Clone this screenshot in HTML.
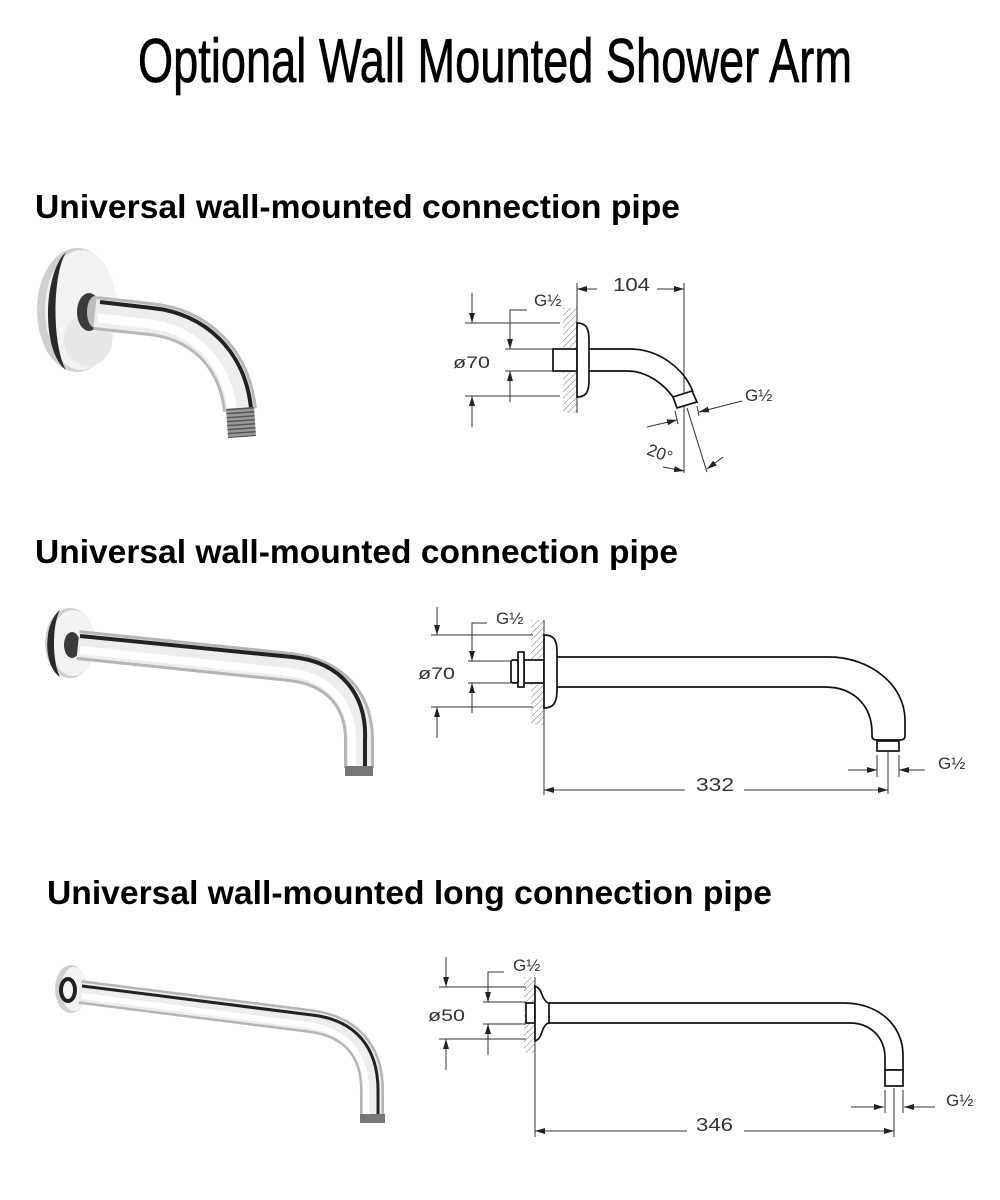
<!DOCTYPE html>
<html>
<head>
<meta charset="utf-8">
<style>
html,body{margin:0;padding:0;background:#fff;}
svg{display:block;}
</style>
</head>
<body>
<svg width="1000" height="1200" viewBox="0 0 1000 1200" xmlns="http://www.w3.org/2000/svg">
<defs>
<marker id="ar" markerUnits="userSpaceOnUse" markerWidth="10" markerHeight="6" refX="10" refY="3" orient="auto"><path d="M0,0 L10,3 L0,6 Z" fill="#222"/></marker>
<pattern id="h" width="4.5" height="4.5" patternUnits="userSpaceOnUse" patternTransform="rotate(45)"><line x1="0" y1="0" x2="0" y2="4.5" stroke="#777" stroke-width="1"/></pattern>
</defs>
<rect width="1000" height="1200" fill="#fff"/>

<!-- Title -->
<text x="138" y="82" font-family="Liberation Sans, sans-serif" font-size="62" textLength="714" lengthAdjust="spacingAndGlyphs" fill="#000" stroke="#000" stroke-width="0.7">Optional Wall Mounted Shower Arm</text>

<!-- Headings -->
<text x="35" y="218" font-family="Liberation Sans, sans-serif" font-weight="bold" font-size="33" textLength="645" lengthAdjust="spacingAndGlyphs" fill="#000">Universal wall-mounted connection pipe</text>
<text x="35" y="563" font-family="Liberation Sans, sans-serif" font-weight="bold" font-size="33" textLength="643" lengthAdjust="spacingAndGlyphs" fill="#000">Universal wall-mounted connection pipe</text>
<text x="47" y="904" font-family="Liberation Sans, sans-serif" font-weight="bold" font-size="33" textLength="725" lengthAdjust="spacingAndGlyphs" fill="#000">Universal wall-mounted long connection pipe</text>

<!-- ========== PHOTO 1 ========== -->
<g>
<ellipse cx="77" cy="310" rx="40" ry="62" fill="#cfcfcf"/>
<ellipse cx="81" cy="310" rx="36" ry="60" fill="#f2f2f2"/>
<ellipse cx="88" cy="340" rx="24" ry="26" fill="#e8e8e8"/>
<path d="M66 252 C 44 272, 40 350, 66 370 C 52 345, 52 276, 66 252 Z" fill="#2a2a2a"/>
<ellipse cx="89" cy="312" rx="12" ry="19" fill="#3a3a3a"/>
<ellipse cx="95" cy="312" rx="8" ry="16" fill="#bdbdbd"/>
<path d="M95 313 L150 319 C 198 324, 234 356, 240 410" fill="none" stroke="#b8b8b8" stroke-width="34"/>
<path d="M95 313 L150 319 C 198 324, 234 356, 240 410" fill="none" stroke="#ededed" stroke-width="28"/>
<path d="M98 318 L150 324 C 193 329, 226 361, 232 408" fill="none" stroke="#fff" stroke-width="9"/>
<path d="M100 302 L152 308 C 204 313, 245 350, 251 408" fill="none" stroke="#222" stroke-width="4"/>
<line x1="240" y1="408" x2="242" y2="437" stroke="#9a9a9a" stroke-width="28"/>
<line x1="240" y1="408" x2="242" y2="437" stroke="#555" stroke-width="28" stroke-dasharray="1.5 2.5"/>
</g>

<!-- ========== DRAWING 1 ========== -->
<g stroke="#333" stroke-width="1" fill="none">
<rect x="563" y="308" width="14" height="105" fill="url(#h)" stroke="none"/>
<line x1="577" y1="283" x2="577" y2="413"/>
<line x1="684" y1="283" x2="684" y2="473"/>
<line x1="465" y1="323" x2="560" y2="323"/>
<line x1="465" y1="396" x2="560" y2="396"/>
<line x1="472" y1="293" x2="472" y2="323" marker-end="url(#ar)"/>
<line x1="472" y1="427" x2="472" y2="396" marker-end="url(#ar)"/>
<polyline points="527,310 510,310 510,349" marker-end="url(#ar)"/>
<line x1="505" y1="349" x2="553" y2="349"/>
<line x1="505" y1="371" x2="553" y2="371"/>
<line x1="510" y1="402" x2="510" y2="371" marker-end="url(#ar)"/>
<line x1="597" y1="289" x2="577" y2="289" marker-end="url(#ar)"/>
<line x1="657" y1="289" x2="684" y2="289" marker-end="url(#ar)"/>
<line x1="687" y1="408" x2="707" y2="472"/>
<line x1="675" y1="411" x2="678" y2="424"/>
<line x1="697" y1="406" x2="699" y2="416"/>
<line x1="647" y1="427" x2="677" y2="420" marker-end="url(#ar)"/>
<line x1="742" y1="401" x2="699" y2="412" marker-end="url(#ar)"/>
<line x1="663" y1="467" x2="684" y2="471" marker-end="url(#ar)"/>
<line x1="723" y1="457" x2="707" y2="469" marker-end="url(#ar)"/>
</g>
<g stroke="#111" stroke-width="1.7" fill="#fff">
<rect x="553" y="349" width="24" height="22"/>
<path d="M577 323 C 586 323, 589 328, 589 340 L589 380 C 589 392, 586 397, 577 397 Z"/>
<path d="M589 349 L630 349 C 660 349, 685 370, 693 392" fill="none"/>
<path d="M589 371 L628 371 C 645 371, 662 382, 673 397" fill="none"/>
<polygon points="673,397 692,391 697,402 677,408"/>
</g>
<g font-family="Liberation Sans, sans-serif" font-size="17" fill="#333">
<text x="453" y="368" textLength="37" lengthAdjust="spacingAndGlyphs">ø70</text>
<text x="534" y="306">G½</text>
<text x="613" y="291" font-size="18" textLength="37" lengthAdjust="spacingAndGlyphs">104</text>
<text x="745" y="401">G½</text>
<text transform="translate(660,453) rotate(20)" text-anchor="middle" y="6" font-size="17">20°</text>
</g>

<!-- ========== PHOTO 2 ========== -->
<g>
<ellipse cx="70" cy="643" rx="25" ry="35" fill="#cfcfcf"/>
<ellipse cx="73" cy="643" rx="22" ry="33" fill="#f2f2f2"/>
<path d="M60 610 C 44 622, 42 665, 60 677 C 52 662, 52 624, 60 610 Z" fill="#2a2a2a"/>
<ellipse cx="72" cy="645" rx="8" ry="13" fill="#3a3a3a"/>
<path d="M78 645 L290 667 C 335 672, 359 700, 359 740 L359 768" fill="none" stroke="#b5b5b5" stroke-width="30"/>
<path d="M78 645 L290 667 C 335 672, 359 700, 359 740 L359 768" fill="none" stroke="#ededed" stroke-width="24"/>
<path d="M80 650 L288 672 C 327 676, 352 702, 352 740 L352 766" fill="none" stroke="#fff" stroke-width="8"/>
<path d="M80 636 L292 657 C 343 662, 367 697, 365 740 L365 766" fill="none" stroke="#222" stroke-width="4"/>
<rect x="345" y="766" width="28" height="10" fill="#777"/>
</g>

<!-- ========== DRAWING 2 ========== -->
<g stroke="#333" stroke-width="1" fill="none">
<rect x="531" y="620" width="13" height="105" fill="url(#h)" stroke="none"/>
<line x1="544" y1="620" x2="544" y2="795"/>
<line x1="431" y1="635" x2="533" y2="635"/>
<line x1="431" y1="707" x2="533" y2="707"/>
<line x1="437" y1="607" x2="437" y2="635" marker-end="url(#ar)"/>
<line x1="437" y1="738" x2="437" y2="707" marker-end="url(#ar)"/>
<polyline points="487,623 472,623 472,661" marker-end="url(#ar)"/>
<line x1="468" y1="661" x2="511" y2="661"/>
<line x1="468" y1="683" x2="511" y2="683"/>
<line x1="472" y1="713" x2="472" y2="683" marker-end="url(#ar)"/>
<line x1="877" y1="755" x2="877" y2="777"/>
<line x1="888" y1="750" x2="888" y2="794"/>
<line x1="899" y1="755" x2="899" y2="777"/>
<line x1="848" y1="770" x2="877" y2="770" marker-end="url(#ar)"/>
<line x1="925" y1="770" x2="899" y2="770" marker-end="url(#ar)"/>
<line x1="685" y1="790" x2="544" y2="790" marker-end="url(#ar)"/>
<line x1="744" y1="790" x2="888" y2="790" marker-end="url(#ar)"/>
</g>
<g stroke="#111" stroke-width="1.7" fill="#fff">
<rect x="524" y="660" width="20" height="23"/>
<rect x="518" y="652" width="6" height="35"/>
<rect x="511" y="660" width="7" height="23" rx="2"/>
<path d="M544 635 C 554 635, 557 640, 557 652 L557 690 C 557 702, 554 708, 544 708 Z"/>
<path d="M557 657 L829 657 C 870 657, 905 685, 905 720 L905 736 C 905 739, 903 740, 900 740 L877 740 C 874 740, 872 739, 872 736 L872 733 C 872 705, 853 687, 825 687 L557 687" fill="none"/>
<rect x="877" y="741" width="22" height="10"/>
</g>
<g font-family="Liberation Sans, sans-serif" font-size="17" fill="#333">
<text x="496" y="624">G½</text>
<text x="418" y="679" textLength="37" lengthAdjust="spacingAndGlyphs">ø70</text>
<text x="938" y="769">G½</text>
<text x="696" y="791" font-size="18" textLength="38" lengthAdjust="spacingAndGlyphs">332</text>
</g>

<!-- ========== PHOTO 3 ========== -->
<g>
<ellipse cx="71" cy="989" rx="16" ry="24" fill="#cfcfcf"/>
<ellipse cx="74" cy="989" rx="13" ry="22" fill="#f3f3f3"/>
<ellipse cx="68" cy="990" rx="7" ry="11" fill="none" stroke="#222" stroke-width="4"/>
<path d="M80 992 L310 1021 C 350 1026, 372 1050, 372 1090 L372 1118" fill="none" stroke="#b5b5b5" stroke-width="24"/>
<path d="M80 992 L310 1021 C 350 1026, 372 1050, 372 1090 L372 1118" fill="none" stroke="#ededed" stroke-width="19"/>
<path d="M82 996 L308 1025 C 344 1030, 366 1052, 366 1090 L366 1116" fill="none" stroke="#fff" stroke-width="6"/>
<path d="M82 986 L312 1015 C 356 1020, 378 1048, 378 1090 L378 1116" fill="none" stroke="#222" stroke-width="3"/>
<rect x="360" y="1114" width="25" height="9" fill="#777"/>
</g>

<!-- ========== DRAWING 3 ========== -->
<g stroke="#333" stroke-width="1" fill="none">
<rect x="524" y="977" width="11" height="76" fill="url(#h)" stroke="none"/>
<line x1="535" y1="977" x2="535" y2="1137"/>
<line x1="439" y1="987" x2="526" y2="987"/>
<line x1="439" y1="1039" x2="526" y2="1039"/>
<line x1="446" y1="957" x2="446" y2="987" marker-end="url(#ar)"/>
<line x1="446" y1="1070" x2="446" y2="1039" marker-end="url(#ar)"/>
<polyline points="504,972 488,972 488,1002" marker-end="url(#ar)"/>
<line x1="483" y1="1002" x2="526" y2="1002"/>
<line x1="483" y1="1024" x2="526" y2="1024"/>
<line x1="488" y1="1055" x2="488" y2="1024" marker-end="url(#ar)"/>
<line x1="885" y1="1090" x2="885" y2="1113"/>
<line x1="894" y1="1088" x2="894" y2="1137"/>
<line x1="903" y1="1090" x2="903" y2="1113"/>
<line x1="851" y1="1107" x2="884" y2="1107" marker-end="url(#ar)"/>
<line x1="935" y1="1107" x2="904" y2="1107" marker-end="url(#ar)"/>
<line x1="687" y1="1131" x2="535" y2="1131" marker-end="url(#ar)"/>
<line x1="744" y1="1131" x2="894" y2="1131" marker-end="url(#ar)"/>
</g>
<g stroke="#111" stroke-width="1.7" fill="#fff">
<rect x="526" y="1003" width="9" height="20"/>
<path d="M535 986 C 540 988, 541 992, 543 997 C 545 1001, 547 1003, 549 1003 L549 1023 C 547 1023, 545 1025, 543 1029 C 541 1035, 540 1039, 535 1041 Z"/>
<path d="M549 1003 L844 1003 C 878 1003, 903 1025, 903 1055 L903 1070 L885 1070 L885 1058 C 885 1037, 870 1023, 850 1023 L549 1023" fill="none"/>
<rect x="885" y="1070" width="18" height="16"/>
</g>
<g font-family="Liberation Sans, sans-serif" font-size="17" fill="#333">
<text x="513" y="971">G½</text>
<text x="428" y="1021" textLength="37" lengthAdjust="spacingAndGlyphs">ø50</text>
<text x="946" y="1106">G½</text>
<text x="696" y="1131" font-size="18" textLength="37" lengthAdjust="spacingAndGlyphs">346</text>
</g>
</svg>
</body>
</html>
